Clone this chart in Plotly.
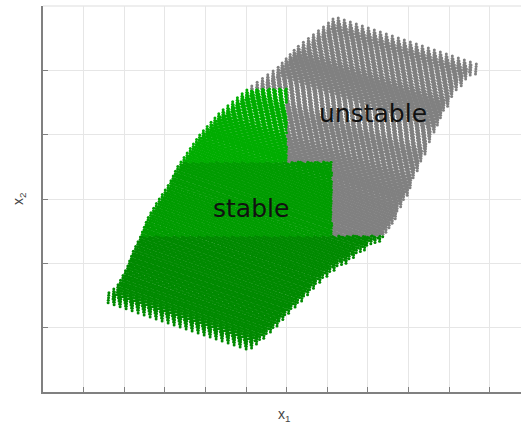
import numpy as np
import plotly.graph_objects as go

# Outline of the sampled state set, in state coordinates (x1, x2).
# Each row of samples starts on the left outline and ends on the right one.
left_x1 = [-4.433, -4.187, -3.941, -3.793, -3.621, -3.424, -3.202, -2.882, -2.709,
           -2.143, -1.650, -0.911, -0.665, -0.246, 0.246, 0.985, 1.182]
left_x2 = [-1.633, -1.509, -1.213, -0.964, -0.747, -0.435, -0.202, 0.109, 0.342,
           0.855, 1.198, 1.586, 1.695, 1.882, 2.208, 2.566, 2.675]
right_x1 = [-0.911, -0.616, 0.000, 0.985, 1.798, 2.365, 2.660, 2.980, 3.399,
            3.768, 4.138, 4.458, 4.680]
right_x2 = [-2.348, -2.193, -1.851, -1.213, -0.855, -0.638, -0.358, 0.062, 0.684,
            1.229, 1.617, 1.851, 1.944]

# Sampling grid
row_step = [0.1478, -0.0311]    # between neighbouring samples of one row
stack_step = [0.005, 0.0389]    # between samples stacked above each other
stack_count = 5
row_gap = 0.043                 # spacing of the rows (x2 offset)
row_shift = [0.0, 0.5]          # alternate rows are staggered by half a step

# Stability bands: lower x2 edges of the bands and the x1 limit in each band
band_x2 = [-0.575, 0.575, 1.71]
band_x1_limit = [1.11, 0.0]

# Region labels
label_text = ["stable", "unstable"]
label_x1 = [-0.887, 2.118]
label_x2 = [-0.150, 1.322]


def sample_set():
    lx1, lx2 = np.array(left_x1), np.array(left_x2)
    rx1, rx2 = np.array(right_x1), np.array(right_x2)
    slope = row_step[1] / row_step[0]
    c_left = lx2 - slope * lx1
    c_right = rx2 - slope * rx1
    c_lo = max(c_left[0], c_right[0])
    c_hi = min(c_left[-1], c_right[-1])
    xs, ys = [], []
    for r, c in enumerate(np.arange(c_lo, c_hi + 1e-9, row_gap)):
        shift = row_shift[r % len(row_shift)]
        s1 = np.interp(c, c_left, lx1)
        s2 = c + slope * s1
        e1 = np.interp(c, c_right, rx1)
        n = int(np.floor((e1 - s1) / row_step[0] - shift + 1e-9))
        m = np.arange(n + 1) + shift
        px = s1 + m * row_step[0]
        py = s2 + m * row_step[1]
        for k in range(stack_count):
            xs.append(px + k * stack_step[0])
            ys.append(py + k * stack_step[1])
    return np.concatenate(xs), np.concatenate(ys)


x1, x2 = sample_set()

low = x2 < band_x2[0]
mid = (x2 >= band_x2[0]) & (x2 < band_x2[1])
high = (x2 >= band_x2[1]) & (x2 < band_x2[2])
stable_low = low
stable_mid = mid & (x1 < band_x1_limit[0])
stable_high = high & (x1 < band_x1_limit[1])
unstable = ~(stable_low | stable_mid | stable_high)

groups = [
    (unstable, "#808080"),
    (stable_low, "#008a00"),
    (stable_mid, "#009c00"),
    (stable_high, "#00ad00"),
]

fig = go.Figure()
for mask, color in groups:
    fig.add_trace(go.Scatter(
        x=x1[mask], y=x2[mask], mode="markers",
        marker=dict(size=3, color=color, line=dict(width=0)),
        hoverinfo="skip", showlegend=False,
    ))

for text, tx, ty in zip(label_text, label_x1, label_x2):
    fig.add_annotation(x=tx, y=ty, text=text, showarrow=False,
                       font=dict(family="DejaVu Sans", size=25, color="#111111"),
                       xanchor="center", yanchor="middle")

fig.add_annotation(x=-0.06, y=-0.06, xref="x", yref="paper", text="x<sub>1</sub>",
                   showarrow=False, font=dict(family="Liberation Sans", size=14, color="#444444"),
                   xanchor="center", yanchor="middle")
fig.add_annotation(x=-0.05, y=0.0, xref="paper", yref="y", text="x<sub>2</sub>",
                   showarrow=False, textangle=-90,
                   font=dict(family="Liberation Sans", size=14, color="#444444"),
                   xanchor="center", yanchor="middle")

fig.add_shape(type="line", xref="paper", yref="paper", x0=0, x1=1, y0=1, y1=1,
              line=dict(color="#e8e8e8", width=1.5), layer="below")

axis_common = dict(showgrid=True, gridcolor="#e6e6e6", gridwidth=1,
                   ticks="inside", ticklen=5, tickcolor="#808080",
                   showticklabels=False, showline=True, linecolor="#808080",
                   linewidth=1.5, zeroline=False, mirror=False)

fig.update_layout(
    width=521, height=425,
    margin=dict(l=43, r=0, t=6, b=33),
    paper_bgcolor="white", plot_bgcolor="white",
    xaxis=dict(range=[-6, 5.773], tickvals=list(range(-6, 6)), **axis_common),
    yaxis=dict(range=[-3, 3], tickvals=list(range(-3, 4)), **axis_common),
)

fig.write_html("out.html")
